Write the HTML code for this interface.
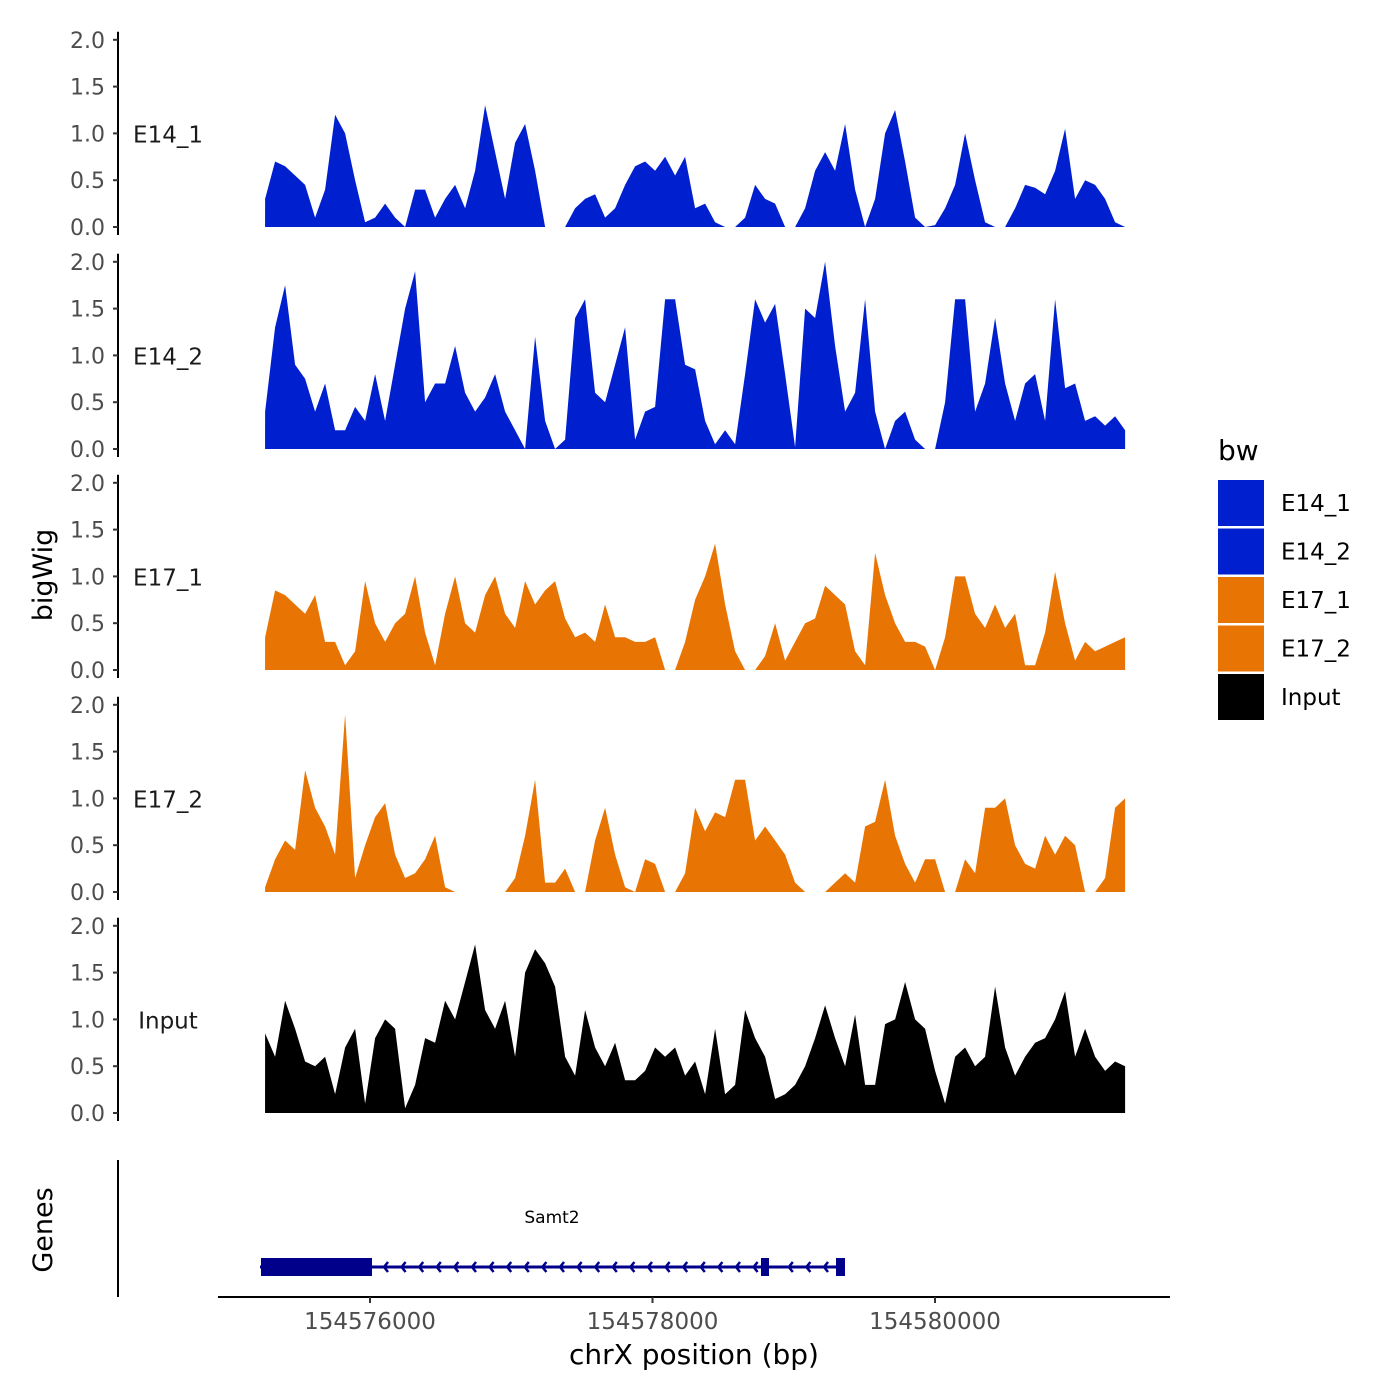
<!DOCTYPE html>
<html><head><meta charset="utf-8"><style>
html,body{margin:0;padding:0;background:#fff;}
svg{display:block;font-family:"DejaVu Sans","Liberation Sans",sans-serif;}
</style></head><body>
<svg id="chart" width="1400" height="1400" viewBox="0 0 1400 1400"></svg>
<script>
const trackNames = ["E14_1","E14_2","E17_1","E17_2","Input"];
const trackColors = ["#0020d0","#0020d0","#e87503","#e87503","#000000"];
const startBp = 154575257;
const binBp = 70.8;
const e14_1 = [0.3,0.7,0.65,0.55,0.45,0.1,0.4,1.2,1.0,0.5,0.05,0.1,0.25,0.1,0,0.4,0.4,0.1,0.3,0.45,0.2,0.6,1.3,0.8,0.3,0.9,1.1,0.6,0,0,0,0.2,0.3,0.35,0.1,0.2,0.45,0.65,0.7,0.6,0.75,0.55,0.75,0.2,0.25,0.05,0,0,0.1,0.45,0.3,0.25,0,0,0.2,0.6,0.8,0.6,1.1,0.4,0,0.3,1.0,1.25,0.7,0.1,0,0.02,0.2,0.45,1.0,0.5,0.05,0,0,0.2,0.45,0.42,0.35,0.6,1.05,0.3,0.5,0.45,0.3,0.05,0];
const e14_2 = [0.4,1.3,1.75,0.9,0.75,0.4,0.7,0.2,0.2,0.45,0.3,0.8,0.3,0.9,1.5,1.9,0.5,0.7,0.7,1.1,0.6,0.4,0.55,0.8,0.4,0.2,0,1.2,0.3,0,0.1,1.4,1.6,0.6,0.5,0.9,1.3,0.1,0.4,0.45,1.6,1.6,0.9,0.85,0.3,0.05,0.2,0.05,0.8,1.6,1.35,1.55,0.8,0.02,1.5,1.4,2.0,1.1,0.4,0.6,1.6,0.4,0,0.3,0.4,0.1,0,0,0.5,1.6,1.6,0.4,0.7,1.4,0.7,0.3,0.7,0.8,0.3,1.6,0.65,0.7,0.3,0.35,0.25,0.35,0.2];
const e17_1 = [0.35,0.85,0.8,0.7,0.6,0.8,0.3,0.3,0.05,0.2,0.95,0.5,0.3,0.5,0.6,1.0,0.4,0.05,0.6,1.0,0.5,0.4,0.8,1.0,0.6,0.45,0.95,0.7,0.85,0.95,0.55,0.35,0.4,0.3,0.7,0.35,0.35,0.3,0.3,0.35,0,0,0.3,0.75,1.0,1.35,0.7,0.2,0,0,0.15,0.5,0.1,0.3,0.5,0.55,0.9,0.8,0.7,0.2,0.05,1.25,0.8,0.5,0.3,0.3,0.25,0,0.35,1.0,1.0,0.6,0.45,0.7,0.45,0.6,0.05,0.05,0.4,1.05,0.5,0.1,0.3,0.2,0.25,0.3,0.35];
const e17_2 = [0.05,0.35,0.55,0.45,1.3,0.9,0.7,0.4,1.9,0.15,0.5,0.8,0.95,0.4,0.15,0.2,0.35,0.6,0.05,0,0,0,0,0,0,0.15,0.6,1.2,0.1,0.1,0.25,0,0,0.55,0.9,0.4,0.05,0,0.35,0.3,0,0,0.2,0.9,0.65,0.85,0.8,1.2,1.2,0.55,0.7,0.55,0.4,0.1,0,0,0,0.1,0.2,0.1,0.7,0.75,1.2,0.6,0.3,0.1,0.35,0.35,0,0,0.35,0.2,0.9,0.9,1.0,0.5,0.3,0.25,0.6,0.4,0.6,0.5,0,0,0.15,0.9,1.0];
const input = [0.85,0.6,1.2,0.9,0.55,0.5,0.6,0.2,0.7,0.9,0.1,0.8,1.0,0.9,0.05,0.3,0.8,0.75,1.2,1.0,1.4,1.8,1.1,0.9,1.2,0.6,1.5,1.75,1.6,1.35,0.6,0.4,1.1,0.7,0.5,0.75,0.35,0.35,0.45,0.7,0.6,0.7,0.4,0.55,0.2,0.9,0.2,0.3,1.1,0.8,0.6,0.15,0.2,0.3,0.5,0.8,1.15,0.8,0.5,1.05,0.3,0.3,0.95,1.0,1.4,1.0,0.9,0.45,0.1,0.6,0.7,0.5,0.6,1.35,0.7,0.4,0.6,0.75,0.8,1.0,1.3,0.6,0.9,0.6,0.45,0.55,0.5];
const series = [e14_1,e14_2,e17_1,e17_2,input];
const yTicks = [0,0.5,1.0,1.5,2.0];
const yTickLabels = ["0.0","0.5","1.0","1.5","2.0"];
const xTicks = [154576000,154578000,154580000];
const legendLabels = ["E14_1","E14_2","E17_1","E17_2","Input"];

const NS="http://www.w3.org/2000/svg";
const svg=document.getElementById('chart');
function mk(tag,attrs,parent){const e=document.createElementNS(NS,tag);for(const k in attrs)e.setAttribute(k,attrs[k]);(parent||svg).appendChild(e);return e;}
function xScale(bp){return 370+(bp-154576000)/2000*282.5;}
const panelZero=[227,449,670,892,1113];
const unit=93.6;

series.forEach((vals,p)=>{
  const g=mk('g',{});
  
  
  const y0=panelZero[p];
  const yS=v=>y0-v*unit;
  const ax=mk('line',{x1:118,x2:118,y1:yS(2)-8,y2:y0+8,stroke:'#000','stroke-width':2},g);
  
  
  yTicks.forEach((t,i)=>{
    mk('line',{x1:113,x2:118,y1:yS(t),y2:yS(t),stroke:'#333','stroke-width':2},g);
    const tl=mk('text',{x:105,y:yS(t)+8,'text-anchor':'end','font-size':22,fill:'#4d4d4d'},g);
    tl.textContent=yTickLabels[i];
    
    
  });
  const lab=mk('text',{x:168,y:yS(1)+9,'text-anchor':'middle','font-size':23,fill:'#1a1a1a'},g);
  lab.textContent=trackNames[p];
  
  
  let d='M'+xScale(startBp)+','+y0;
  vals.forEach((v,i)=>{d+=' L'+xScale(startBp+i*binBp).toFixed(1)+','+yS(v).toFixed(1);});
  d+=' L'+xScale(startBp+(vals.length-1)*binBp).toFixed(1)+','+y0+' Z';
  const a=mk('path',{d:d,fill:trackColors[p]},g);
  
  
});

const yt=mk('text',{x:0,y:0,transform:'translate(52,575) rotate(-90)','text-anchor':'middle','font-size':27,fill:'#000'});
yt.textContent='bigWig';



const gg=mk('g',{});


mk('line',{x1:118,x2:118,y1:1160,y2:1297,stroke:'#000','stroke-width':2},gg);
const gt=mk('text',{x:0,y:0,transform:'translate(52,1230) rotate(-90)','text-anchor':'middle','font-size':27,fill:'#000'},gg);
gt.textContent='Genes';


mk('line',{x1:260,x2:845,y1:1267,y2:1267,stroke:'#00008b','stroke-width':3},gg);
const exon1=mk('rect',{x:261,y:1258,width:111,height:18,fill:'#00008b'},gg);


mk('rect',{x:761,y:1258,width:8,height:18,fill:'#00008b'},gg);
mk('rect',{x:836,y:1258,width:9,height:18,fill:'#00008b'},gg);
for(let x=384;x<835;x+=17.6){
  if(x>755&&x<775)continue;
  mk('path',{d:`M${x+4},${1262} L${x},${1267} L${x+4},${1272}`,fill:'none',stroke:'#00008b','stroke-width':2.5},gg);
}
const gn=mk('text',{x:552,y:1223,'text-anchor':'middle','font-size':17,fill:'#000'},gg);
gn.textContent='Samt2';



const xa=mk('line',{x1:218,x2:1170,y1:1297,y2:1297,stroke:'#000','stroke-width':2});


xTicks.forEach(t=>{
  mk('line',{x1:xScale(t),x2:xScale(t),y1:1297,y2:1303,stroke:'#333','stroke-width':2});
  const tl=mk('text',{x:xScale(t),y:1329,'text-anchor':'middle','font-size':23,fill:'#4d4d4d'});
  tl.textContent=String(t);
  
  
});
const xt=mk('text',{x:694,y:1364,'text-anchor':'middle','font-size':28,fill:'#000'});
xt.textContent='chrX position (bp)';



const lg=mk('g',{});


const lt=mk('text',{x:1218,y:460,'font-size':28,fill:'#000'},lg);
lt.textContent='bw';
legendLabels.forEach((l,i)=>{
  const y=480+i*48.5;
  const r=mk('rect',{x:1218,y:y,width:46,height:46,fill:trackColors[i]},lg);
  
  
  const t=mk('text',{x:1281,y:y+31,'font-size':23,fill:'#000'},lg);
  t.textContent=l;
  
  
});
</script>
</body></html>
